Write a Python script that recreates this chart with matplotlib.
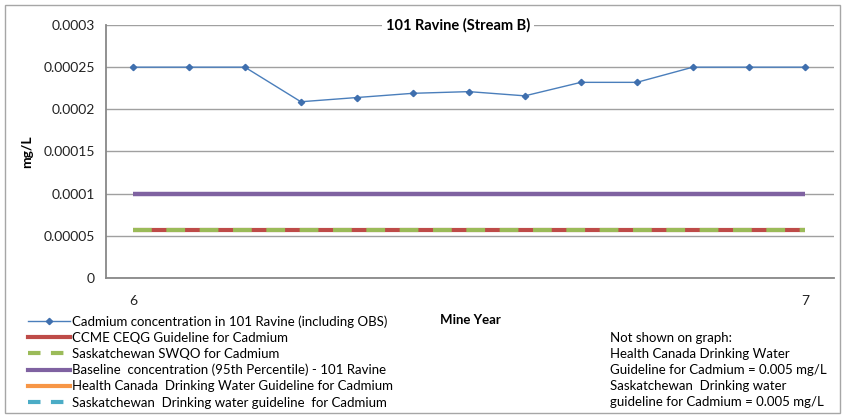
import matplotlib
matplotlib.use("Agg")
import matplotlib.pyplot as plt
from matplotlib.lines import Line2D
from matplotlib.patches import Rectangle

plt.rcParams['font.family'] = ['Lato', 'DejaVu Sans']

# ---- data ----
title = "101 Ravine (Stream B)"
x_tick_labels = ["6", "", "", "", "", "", "", "", "", "", "", "", "7"]
cadmium = [0.00025, 0.00025, 0.00025, 0.000209, 0.000214, 0.000219, 0.000221,
           0.000216, 0.000232, 0.000232, 0.00025, 0.00025, 0.00025]
ccme_guideline = 0.000057
sk_swqo = 0.000057
baseline_95 = 0.0001
y_ticks = [0, 0.00005, 0.0001, 0.00015, 0.0002, 0.00025, 0.0003]
y_tick_labels = ["0", "0.00005", "0.0001", "0.00015", "0.0002", "0.00025", "0.0003"]
legend_labels = [
    "Cadmium concentration in 101 Ravine (including OBS)",
    "CCME CEQG Guideline for Cadmium",
    "Saskatchewan SWQO for Cadmium",
    "Baseline  concentration (95th Percentile) - 101 Ravine",
    "Health Canada  Drinking Water Guideline for Cadmium",
    "Saskatchewan  Drinking water guideline  for Cadmium",
]
note_lines = [
    "Not shown on graph:",
    "Health Canada Drinking Water",
    "Guideline for Cadmium = 0.005 mg/L",
    "Saskatchewan  Drinking water",
    "guideline for Cadmium = 0.005 mg/L",
]

W, H = 845, 418
fig = plt.figure(figsize=(W / 100, H / 100), dpi=100)

# outer border
fig.patches.append(Rectangle((5 / W, 5 / H), 835 / W, 408 / H, transform=fig.transFigure,
                             fill=False, edgecolor="#A6A6A6", linewidth=1.0))

ax = fig.add_axes([106 / W, (H - 278) / H, (834 - 106) / W, (278 - 25) / H])
n = len(cadmium)
xs = list(range(n))

grid_c = "#A0A0A0"
for v in y_ticks:
    ax.axhline(v, color=grid_c, linewidth=1.0, zorder=0)

ax.plot(xs, [ccme_guideline] * n, color="#BE4B48", linewidth=3.0, solid_capstyle="butt", zorder=2)
ax.plot(xs, [sk_swqo] * n, color="#9BBB59", linewidth=3.0, dashes=(4.5, 3.5), dash_capstyle="butt", zorder=3)
ax.plot(xs, [baseline_95] * n, color="#7F62A1", linewidth=3.2, solid_capstyle="butt", zorder=3)
ax.plot(xs, cadmium, color="#4A7EBB", linewidth=1.0, marker="D", markersize=3.2,
        markerfacecolor="#3F6FAE", markeredgecolor="#3F6FAE", zorder=4)

ax.set_xlim(-0.48, 12.52)
ax.set_ylim(0, 0.0003)
ax.set_yticks(y_ticks)
ax.set_yticklabels(y_tick_labels, fontsize=10, color="#222222")
ax.set_xticks(xs)
ax.set_xticklabels(x_tick_labels, fontsize=10, color="#222222")
ax.tick_params(axis="both", length=0)
ax.tick_params(axis="y", pad=8)
ax.tick_params(axis="x", pad=12)
for s in ["top", "right"]:
    ax.spines[s].set_visible(False)
ax.spines["left"].set_color("#888888")
ax.spines["bottom"].set_color("#888888")
ax.spines["left"].set_linewidth(1.3)
ax.spines["bottom"].set_linewidth(1.3)

ax.set_ylabel("mg/L", fontsize=10, fontweight="bold")
ax.yaxis.set_label_coords(-0.1, 0.5)

fig.text(458 / W, 1 - 25 / H, title, ha="center", va="center", fontsize=10.5, fontweight="bold",
         bbox=dict(facecolor="white", edgecolor="none", pad=3))

fig.text(470 / W, 1 - 320 / H, "Mine Year", ha="center", va="center", fontsize=9.5, fontweight="bold")

handles = [
    Line2D([], [], color="#4A7EBB", linewidth=1.0, marker="D", markersize=3.2,
           markerfacecolor="#3F6FAE", markeredgecolor="#3F6FAE"),
    Line2D([], [], color="#BE4B48", linewidth=3.0),
    Line2D([], [], color="#9BBB59", linewidth=3.0, dashes=(3, 2.5)),
    Line2D([], [], color="#7F62A1", linewidth=3.0),
    Line2D([], [], color="#F79646", linewidth=3.0),
    Line2D([], [], color="#4BACC6", linewidth=3.0, dashes=(3, 2.5)),
]
fig.legend(handles, legend_labels, loc="upper left", bbox_to_anchor=(28 / W, 1 - 315 / H),
           frameon=False, fontsize=9.5, handlelength=3.2, handletextpad=0.12,
           labelspacing=0.31, borderpad=0, borderaxespad=0)

for i, t in enumerate(note_lines):
    fig.text(610 / W, 1 - (338 + 16 * i) / H, t, ha="left", va="center", fontsize=9.5)

fig.savefig("out.png", dpi=100)
